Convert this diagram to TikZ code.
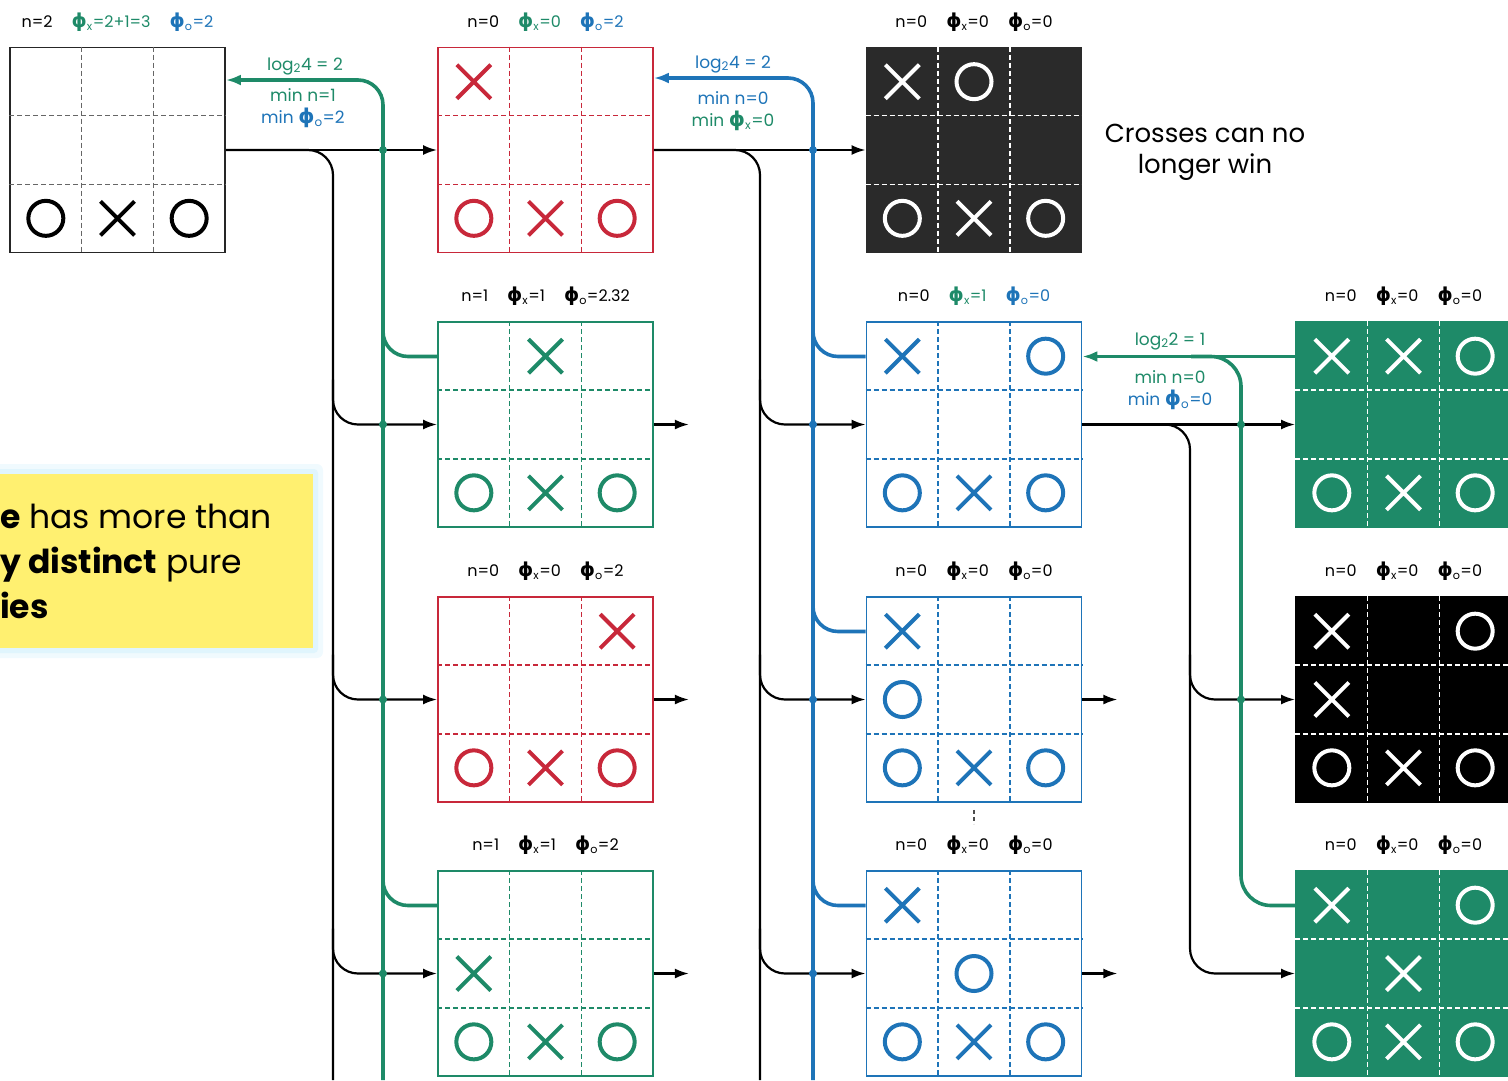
\documentclass[tikz,border=0pt]{standalone}
\usepackage{fontspec}
\setmainfont{Poppins}
\newfontfamily\phifont{DejaVu Sans}
\usetikzlibrary{positioning,calc,arrows.meta}

\definecolor{tgreen}{RGB}{30,138,104}
\definecolor{tblue}{RGB}{30,116,184}
\definecolor{tred}{RGB}{200,40,58}
\definecolor{tdark}{RGB}{42,42,42}
\definecolor{tyellow}{RGB}{255,240,112}

% phi with a small index
\newcommand\ph[1]{{\phifont\bfseries\scalebox{1.2}{ϕ}}\textsubscript{#1}}
\newcommand\gap{\hspace{19pt}}
% dashed 3x3 lines inside a board
\newcommand\boardgrid[2]{%
  \draw[#2, dash pattern=on 5pt off 3pt, line width=1.3pt]
    ($(#1.north west)!1/3!(#1.north east)$) -- ($(#1.south west)!1/3!(#1.south east)$)
    ($(#1.north west)!2/3!(#1.north east)$) -- ($(#1.south west)!2/3!(#1.south east)$)
    ($(#1.north west)!1/3!(#1.south west)$) -- ($(#1.north east)!1/3!(#1.south east)$)
    ($(#1.north west)!2/3!(#1.south west)$) -- ($(#1.north east)!2/3!(#1.south east)$);}
% marks: column/row/type
\newcommand\putmarks[3]{%
  \foreach \c/\r/\t in {#3}
    \pic[#2] at ($(#1)+({(\c-2)*71.67},{(\r-2)*68.33})$) {\t};}

\begin{document}
\begin{tikzpicture}[
    x=1pt, y=-1pt,
    board/.style={rectangle, line width=1.8pt, minimum width=215pt, minimum height=205pt, inner sep=0pt},
    head/.style={inner sep=0pt, font=\fontsize{16}{18}\selectfont},
    lbl/.style={inner sep=0pt, font=\fontsize{17}{19}\selectfont},
    flow/.style={line width=2.2pt, -{Latex[length=14pt,width=10pt]}},
    wire/.style={line width=2.2pt, rounded corners=25pt},
    gline/.style={tgreen, line width=3.6pt, rounded corners=25pt},
    bline/.style={tblue, line width=3.6pt, rounded corners=25pt},
    xm/.pic={\draw[line width=4pt] (-17,-17) -- (17,17) (-17,17) -- (17,-17);},
    om/.pic={\draw[line width=4pt] (0,0) circle[radius=17.5pt];}
]
\useasboundingbox (0,0) rectangle (1508,1080);

% note on the left
\fill[cyan!6, rounded corners=6pt] (-20,464) rectangle (323,658);
\fill[cyan!12, rounded corners=4pt] (-20,469) rectangle (318,653);
\node[fill=tyellow, minimum width=333pt, minimum height=174pt, inner sep=0pt] (note) at (146.5,561) {};
\node[anchor=west, align=left, inner sep=0pt, font=\fontsize{33}{45}\selectfont] (notetext) at (0,561)
  {\textbf{e} has more than\\\textbf{y distinct} pure\\\textbf{ies}};

% boards
\node[board, draw=black!85] (root) at (117.5,150) {};
\node[board, draw=tred] (cross) at (545.5,150) {};
\node[board, draw=tdark, fill=tdark] (lost) at (974,150) {};
\node[board, draw=tgreen] (g1) at (545.5,424.5) {};
\node[board, draw=tred] (g2) at (545.5,699.5) {};
\node[board, draw=tgreen] (g3) at (545.5,973.5) {};
\node[board, draw=tblue] (h1) at (974,424.5) {};
\node[board, draw=tblue] (h2) at (974,699.5) {};
\node[board, draw=tblue] (h3) at (974,973.5) {};
\node[board, draw=tgreen, fill=tgreen] (k1) at (1403.5,424.5) {};
\node[board, draw=black, fill=black] (k2) at (1403.5,699.5) {};
\node[board, draw=tgreen, fill=tgreen] (k3) at (1403.5,973.5) {};

\boardgrid{root}{black!60}
\boardgrid{cross}{tred}
\boardgrid{lost}{white}
\boardgrid{g1}{tgreen}
\boardgrid{g2}{tred}
\boardgrid{g3}{tgreen}
\boardgrid{h1}{tblue}
\boardgrid{h2}{tblue}
\boardgrid{h3}{tblue}
\boardgrid{k1}{white}
\boardgrid{k2}{white}
\boardgrid{k3}{white}

\putmarks{root}{black}{1/3/om,2/3/xm,3/3/om}
\putmarks{cross}{tred}{1/1/xm,1/3/om,2/3/xm,3/3/om}
\putmarks{lost}{white}{1/1/xm,2/1/om,1/3/om,2/3/xm,3/3/om}
\putmarks{g1}{tgreen}{2/1/xm,1/3/om,2/3/xm,3/3/om}
\putmarks{g2}{tred}{3/1/xm,1/3/om,2/3/xm,3/3/om}
\putmarks{g3}{tgreen}{1/2/xm,1/3/om,2/3/xm,3/3/om}
\putmarks{h1}{tblue}{1/1/xm,3/1/om,1/3/om,2/3/xm,3/3/om}
\putmarks{h2}{tblue}{1/1/xm,1/2/om,1/3/om,2/3/xm,3/3/om}
\putmarks{h3}{tblue}{1/1/xm,2/2/om,1/3/om,2/3/xm,3/3/om}
\putmarks{k1}{white}{1/1/xm,2/1/xm,3/1/om,1/3/om,2/3/xm,3/3/om}
\putmarks{k2}{white}{1/1/xm,3/1/om,1/2/xm,1/3/om,2/3/xm,3/3/om}
\putmarks{k3}{white}{1/1/xm,3/1/om,2/2/xm,1/3/om,2/3/xm,3/3/om}

% headers
\node[head, above=15pt of root] {n=2\gap\textcolor{tgreen}{\ph{x}=2+1=3}\gap\textcolor{tblue}{\ph{o}=2}};
\node[head, above=15pt of cross] {n=0\gap\textcolor{tgreen}{\ph{x}=0}\gap\textcolor{tblue}{\ph{o}=2}};
\node[head, above=15pt of lost] {n=0\gap\ph{x}=0\gap\ph{o}=0};
\node[head, above=15pt of g1] {n=1\gap\ph{x}=1\gap\ph{o}=2.32};
\node[head, above=15pt of g2] {n=0\gap\ph{x}=0\gap\ph{o}=2};
\node[head, above=15pt of g3] {n=1\gap\ph{x}=1\gap\ph{o}=2};
\node[head, above=15pt of h1] {n=0\gap\textcolor{tgreen}{\ph{x}=1}\gap\textcolor{tblue}{\ph{o}=0}};
\node[head, above=15pt of h2] {n=0\gap\ph{x}=0\gap\ph{o}=0};
\node[head, above=15pt of h3] {n=0\gap\ph{x}=0\gap\ph{o}=0};
\node[head, above=15pt of k1] {n=0\gap\ph{x}=0\gap\ph{o}=0};
\node[head, above=15pt of k2] {n=0\gap\ph{x}=0\gap\ph{o}=0};
\node[head, above=15pt of k3] {n=0\gap\ph{x}=0\gap\ph{o}=0};

\node[font=\fontsize{26}{31}\selectfont, align=center] (lostnote) at (1205,152) {Crosses can no\\longer win};

% trunk ends
\coordinate (t1) at (333,1080);
\coordinate (t2) at (760,1080);
\coordinate (t3) at (1190,700);
\coordinate (gbot) at (383,1080);
\coordinate (bbot) at (813,1080);
\coordinate (g4) at (1241,600);
\coordinate[right=35pt of g1] (e1);
\coordinate[right=35pt of g2] (e2);
\coordinate[right=35pt of g3] (e3);
\coordinate[right=35pt of h2] (e4);
\coordinate[right=35pt of h3] (e5);

% black moves
\draw[flow] (root.east) -- (cross.west);
\draw[wire] (root.east) -| (t1);
\foreach \b in {g1,g2,g3}
  \draw[flow, rounded corners=25pt] ($(t1 |- \b.west)+(0,-45)$) |- (\b.west);
\draw[flow] (cross.east) -- (lost.west);
\draw[wire] (cross.east) -| (t2);
\foreach \b in {h1,h2,h3}
  \draw[flow, rounded corners=25pt] ($(t2 |- \b.west)+(0,-45)$) |- (\b.west);
\draw[flow] (h1.east) -- (k1.west);
\draw[flow, rounded corners=25pt] (h1.east) -| (t3) |- (k3.west);
\draw[flow, rounded corners=25pt] ($(t3 |- k2.west)+(0,-45)$) |- (k2.west);
\draw[flow] (g1.east) -- (e1);
\draw[flow] (g2.east) -- (e2);
\draw[flow] (g3.east) -- (e3);
\draw[flow] (h2.east) -- (e4);
\draw[flow] (h3.east) -- (e5);
\draw[black!70, line width=1.4pt, dash pattern=on 4pt off 3pt] ($(h2.south)+(0,7)$) -- ($(h2.south)+(0,21)$);

% green back-up for crosses
\draw[gline, -{Latex[length=15pt,width=11pt]}] (gbot) |- ($(root.east)+(0,-70)$);
\draw[gline] ($(g1.west)+(0,-68)$) -| (gbot |- g1.north);
\draw[gline] ($(g3.west)+(0,-68)$) -| (gbot |- g3.north);
\foreach \b in {root,g1,g2,g3}
  \fill[tgreen] (gbot |- \b.west) circle[radius=4pt];
\node[lbl, text=tgreen] (la1) at (305,66) {log\textsubscript{2}4 = 2};
\node[lbl, text=tgreen] (la2) at (303,95) {min n=1};
\node[lbl, text=tblue] (la3) at (303,118) {min \ph{o}=2};

% blue back-up for noughts
\draw[bline, -{Latex[length=15pt,width=11pt]}] (bbot) |- ($(cross.east)+(0,-72)$);
\foreach \b in {h1,h2,h3}
  \draw[bline] ($(\b.west)+(0,-68)$) -| (bbot |- \b.north);
\foreach \b in {cross,h1,h2,h3}
  \fill[tblue] (bbot |- \b.west) circle[radius=4pt];
\node[lbl, text=tblue] (lb1) at (733,64) {log\textsubscript{2}4 = 2};
\node[lbl, text=tblue] (lb2) at (733,98) {min n=0};
\node[lbl, text=tgreen] (lb3) at (733,121) {min \ph{x}=0};

% green back-up on the right
\draw[gline, -{Latex[length=15pt,width=11pt]}] ($(k1.west)+(0,-68)$) -- ($(h1.east)+(0,-68)$);
\draw[gline, rounded corners=30pt] ($(k3.west)+(0,-68)$) -| (g4) |- ($(g4 |- k1.west)+(-50,-68)$);
\foreach \b in {k1,k2}
  \fill[tgreen] (g4 |- \b.west) circle[radius=4pt];
\node[lbl, text=tgreen] (lc1) at (1170,341) {log\textsubscript{2}2 = 1};
\node[lbl, text=tgreen] (lc2) at (1170,377) {min n=0};
\node[lbl, text=tblue] (lc3) at (1170,400) {min \ph{o}=0};
\end{tikzpicture}
\end{document}
